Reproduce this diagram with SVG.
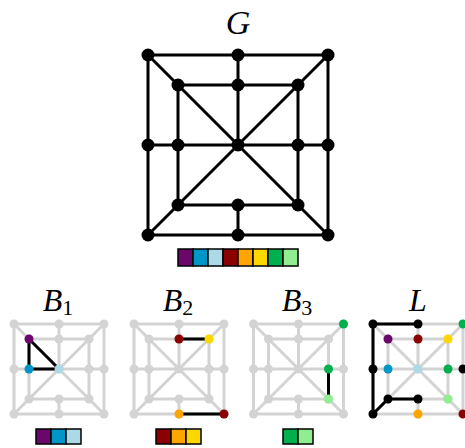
<svg xmlns="http://www.w3.org/2000/svg" xmlns:xlink="http://www.w3.org/1999/xlink" width="465" height="448" viewBox="0 0 465 448">
<style>
.bg{fill:#fff}
.me{fill:none;stroke:#000;stroke-width:3;stroke-linecap:round}
.mn{fill:#000}
.ge{fill:none;stroke:#d3d3d3;stroke-width:3;stroke-linecap:round}
.gn{fill:#d3d3d3}
.be{fill:none;stroke:#000;stroke-width:3;stroke-linecap:round}
.cell{stroke:#000;stroke-width:1.5}
.lbl{font-family:"Liberation Serif","Times New Roman",serif;font-style:italic;fill:#000}
.sub{font-style:normal}
.pu{fill:#6b076b}.bl{fill:#0096c8}.lb{fill:#add8e6}.dr{fill:#8b0000}
.or{fill:#ffa500}.go{fill:#ffd700}.gr{fill:#00b04f}.lg{fill:#90ee90}.bk{fill:#000}
</style>
<defs>
<g id="base">
<path class="ge" d="M-45,-45H45V45H-45Z M-30,-30H30V30H-30Z M-45,0H45 M0,-45V0 M0,30V45 M-45,-45L45,45 M45,-45L-45,45"/>
<g class="gn">
<circle cx="-45" cy="-45" r="4.5"/><circle cx="0" cy="-45" r="4.5"/><circle cx="45" cy="-45" r="4.5"/>
<circle cx="-45" cy="0" r="4.5"/><circle cx="45" cy="0" r="4.5"/>
<circle cx="-45" cy="45" r="4.5"/><circle cx="0" cy="45" r="4.5"/><circle cx="45" cy="45" r="4.5"/>
<circle cx="-30" cy="-30" r="4.5"/><circle cx="0" cy="-30" r="4.5"/><circle cx="30" cy="-30" r="4.5"/>
<circle cx="-30" cy="0" r="4.5"/><circle cx="0" cy="0" r="4.5"/><circle cx="30" cy="0" r="4.5"/>
<circle cx="-30" cy="30" r="4.5"/><circle cx="0" cy="30" r="4.5"/><circle cx="30" cy="30" r="4.5"/>
</g>
</g>
</defs>
<rect class="bg" x="0" y="0" width="465" height="448"/>

<!-- Main graph G -->
<text class="lbl" x="238" y="34" font-size="34" text-anchor="middle">G</text>
<g id="G" transform="translate(238,145)">
<g id="G-connectors">
<path class="me" d="M-90,-90H90V90H-90Z M-60,-60H60V60H-60Z M-90,0H90 M0,-90V0 M0,60V90 M-90,-90L90,90 M90,-90L-90,90"/>
</g>
<g id="G-otl"><circle class="mn" cx="-90" cy="-90" r="6.5"/></g>
<g id="G-ot"><circle class="mn" cx="0" cy="-90" r="6.5"/></g>
<g id="G-otr"><circle class="mn" cx="90" cy="-90" r="6.5"/></g>
<g id="G-ol"><circle class="mn" cx="-90" cy="0" r="6.5"/></g>
<g id="G-or"><circle class="mn" cx="90" cy="0" r="6.5"/></g>
<g id="G-obl"><circle class="mn" cx="-90" cy="90" r="6.5"/></g>
<g id="G-ob"><circle class="mn" cx="0" cy="90" r="6.5"/></g>
<g id="G-obr"><circle class="mn" cx="90" cy="90" r="6.5"/></g>
<g id="G-itl"><circle class="mn" cx="-60" cy="-60" r="6.5"/></g>
<g id="G-it"><circle class="mn" cx="0" cy="-60" r="6.5"/></g>
<g id="G-itr"><circle class="mn" cx="60" cy="-60" r="6.5"/></g>
<g id="G-il"><circle class="mn" cx="-60" cy="0" r="6.5"/></g>
<g id="G-c"><circle class="mn" cx="0" cy="0" r="6.5"/></g>
<g id="G-ir"><circle class="mn" cx="60" cy="0" r="6.5"/></g>
<g id="G-ibl"><circle class="mn" cx="-60" cy="60" r="6.5"/></g>
<g id="G-ib"><circle class="mn" cx="0" cy="60" r="6.5"/></g>
<g id="G-ibr"><circle class="mn" cx="60" cy="60" r="6.5"/></g>
</g>
<g id="G-bar">
<rect class="cell pu" x="178" y="249" width="15" height="17"/>
<rect class="cell bl" x="193" y="249" width="15" height="17"/>
<rect class="cell lb" x="208" y="249" width="15" height="17"/>
<rect class="cell dr" x="223" y="249" width="15" height="17"/>
<rect class="cell or" x="238" y="249" width="15" height="17"/>
<rect class="cell go" x="253" y="249" width="15" height="17"/>
<rect class="cell gr" x="268" y="249" width="15" height="17"/>
<rect class="cell lg" x="283" y="249" width="15" height="17"/>
</g>

<!-- B1 -->
<text class="lbl" x="58" y="311" font-size="32" text-anchor="middle">B<tspan class="sub" font-size="22" dy="4">1</tspan></text>
<g id="B1" transform="translate(59,369)">
<use xlink:href="#base" href="#base"/>
<g id="B1-connectors"><path class="be" d="M-30,-30V0H0Z"/></g>
<g id="B1-itl"><circle class="pu" cx="-30" cy="-30" r="4.5"/></g>
<g id="B1-il"><circle class="bl" cx="-30" cy="0" r="4.5"/></g>
<g id="B1-c"><circle class="lb" cx="0" cy="0" r="4.5"/></g>
</g>
<g id="B1-bar">
<rect class="cell pu" x="36" y="429" width="15" height="15"/>
<rect class="cell bl" x="51" y="429" width="15" height="15"/>
<rect class="cell lb" x="66" y="429" width="15" height="15"/>
</g>

<!-- B2 -->
<text class="lbl" x="178" y="311" font-size="32" text-anchor="middle">B<tspan class="sub" font-size="22" dy="4">2</tspan></text>
<g id="B2" transform="translate(179,369)">
<use xlink:href="#base" href="#base"/>
<g id="B2-connectors"><path class="be" d="M0,-30H30 M0,45H45"/></g>
<g id="B2-it"><circle class="dr" cx="0" cy="-30" r="4.5"/></g>
<g id="B2-itr"><circle class="go" cx="30" cy="-30" r="4.5"/></g>
<g id="B2-ob"><circle class="or" cx="0" cy="45" r="4.5"/></g>
<g id="B2-obr"><circle class="dr" cx="45" cy="45" r="4.5"/></g>
</g>
<g id="B2-bar">
<rect class="cell dr" x="156" y="429" width="15" height="15"/>
<rect class="cell or" x="171" y="429" width="15" height="15"/>
<rect class="cell go" x="186" y="429" width="15" height="15"/>
</g>

<!-- B3 -->
<text class="lbl" x="297" y="311" font-size="32" text-anchor="middle">B<tspan class="sub" font-size="22" dy="4">3</tspan></text>
<g id="B3" transform="translate(298.5,369)">
<use xlink:href="#base" href="#base"/>
<g id="B3-connectors"><path class="be" d="M30,0V30"/></g>
<g id="B3-otr"><circle class="gr" cx="45" cy="-45" r="4.5"/></g>
<g id="B3-ir"><circle class="gr" cx="30" cy="0" r="4.5"/></g>
<g id="B3-ibr"><circle class="lg" cx="30" cy="30" r="4.5"/></g>
</g>
<g id="B3-bar">
<rect class="cell gr" x="283" y="429" width="15" height="15"/>
<rect class="cell lg" x="298" y="429" width="15" height="15"/>
</g>

<!-- L -->
<text class="lbl" x="418" y="311" font-size="32" text-anchor="middle">L</text>
<g id="L" transform="translate(418,369)">
<use xlink:href="#base" href="#base"/>
<g id="L-connectors"><path class="be" d="M0,-45H-45V45L-30,30H0"/></g>
<g id="L-otl"><circle class="bk" cx="-45" cy="-45" r="4.5"/></g>
<g id="L-ot"><circle class="bk" cx="0" cy="-45" r="4.5"/></g>
<g id="L-otr"><circle class="gr" cx="45" cy="-45" r="4.5"/></g>
<g id="L-ol"><circle class="bk" cx="-45" cy="0" r="4.5"/></g>
<g id="L-or"><circle class="bk" cx="45" cy="0" r="4.5"/></g>
<g id="L-obl"><circle class="bk" cx="-45" cy="45" r="4.5"/></g>
<g id="L-ob"><circle class="or" cx="0" cy="45" r="4.5"/></g>
<g id="L-obr"><circle class="dr" cx="45" cy="45" r="4.5"/></g>
<g id="L-itl"><circle class="pu" cx="-30" cy="-30" r="4.5"/></g>
<g id="L-it"><circle class="dr" cx="0" cy="-30" r="4.5"/></g>
<g id="L-itr"><circle class="go" cx="30" cy="-30" r="4.5"/></g>
<g id="L-il"><circle class="bl" cx="-30" cy="0" r="4.5"/></g>
<g id="L-c"><circle class="lb" cx="0" cy="0" r="4.5"/></g>
<g id="L-ir"><circle class="gr" cx="30" cy="0" r="4.5"/></g>
<g id="L-ibl"><circle class="bk" cx="-30" cy="30" r="4.5"/></g>
<g id="L-ib"><circle class="bk" cx="0" cy="30" r="4.5"/></g>
<g id="L-ibr"><circle class="lg" cx="30" cy="30" r="4.5"/></g>
</g>
</svg>
